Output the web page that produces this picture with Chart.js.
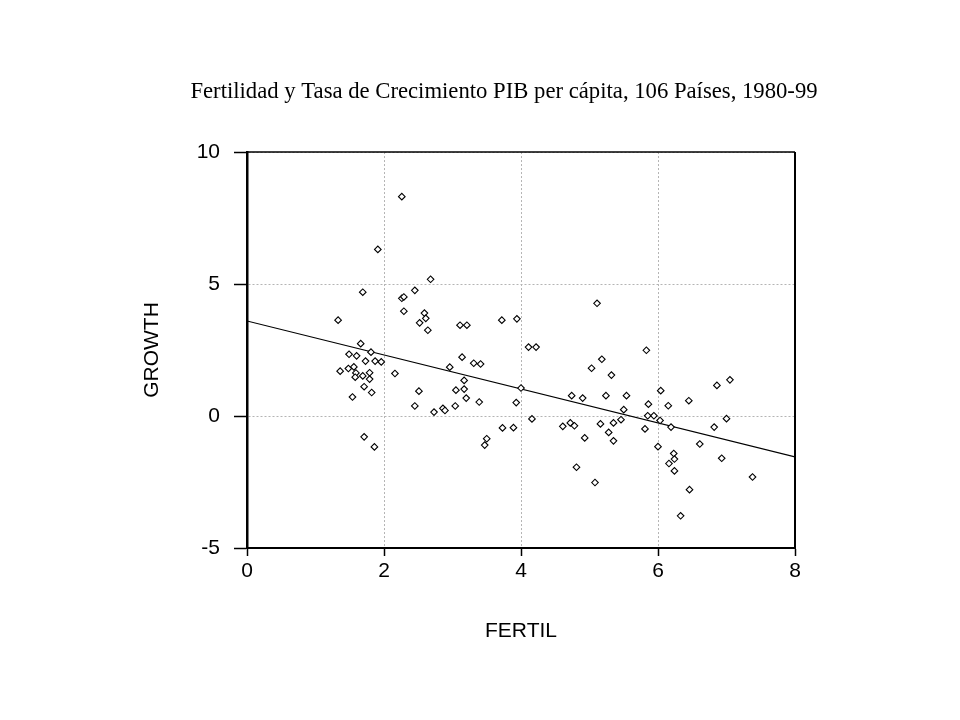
<!DOCTYPE html>
<html>
<head>
<meta charset="utf-8">
<script src="https://cdn.jsdelivr.net/npm/chart.js@4/dist/chart.umd.min.js"></script>
<style>
  html, body { margin: 0; padding: 0; background: #fff; }
  #chart { display: block; }
</style>
</head>
<body>
<canvas id="chart" width="960" height="720"></canvas>
<script>
const titleText = 'Fertilidad y Tasa de Crecimiento PIB per cápita, 106 Países, 1980-99';
const xLabel = 'FERTIL';
const yLabel = 'GROWTH';

const xTicks = [0, 2, 4, 6, 8];
const yTicks = [-5, 0, 5, 10];

// FERTIL
const fertil = [
  2.26, 1.91, 2.68, 1.69, 2.45, 2.26, 2.29, 2.29, 1.33, 2.59,
  2.61, 2.52, 2.64, 3.11, 3.21, 3.72, 3.94, 1.66, 1.49, 1.60,
  1.81, 1.73, 1.87, 1.96, 1.36, 1.48, 1.56, 1.59, 1.58, 1.69,
  1.79, 1.79, 1.71, 1.82, 1.54, 2.16, 2.51, 2.45, 2.73, 2.86,
  2.89, 3.04, 3.05, 3.17, 3.20, 3.39, 3.17, 2.96, 3.14, 3.31,
  3.41, 4.11, 4.22, 4.00, 3.93, 4.16, 3.73, 3.89, 3.50, 3.47,
  1.71, 1.86, 5.11, 5.83, 5.18, 5.03, 5.32, 7.05, 6.86, 4.74,
  4.90, 5.24, 5.54, 6.04, 6.45, 5.86, 6.15, 5.50, 5.85, 5.94,
  6.03, 5.46, 7.00, 4.61, 4.72, 4.78, 5.16, 5.35, 5.81, 6.19,
  6.82, 5.28, 4.93, 5.35, 6.00, 6.61, 6.23, 6.24, 6.16, 6.93,
  6.24, 4.81, 5.08, 7.38, 6.46, 6.33
];

// GROWTH, same order
const growth = [
  8.31, 6.31, 5.18, 4.69, 4.76, 4.46, 4.51, 3.97, 3.63, 3.90,
  3.70, 3.53, 3.25, 3.44, 3.44, 3.63, 3.68, 2.74, 2.34, 2.28,
  2.42, 2.08, 2.08, 2.05, 1.70, 1.80, 1.86, 1.63, 1.47, 1.52,
  1.64, 1.40, 1.11, 0.89, 0.72, 1.61, 0.94, 0.38, 0.15, 0.29,
  0.21, 0.38, 0.98, 1.02, 0.68, 0.53, 1.35, 1.85, 2.23, 2.00,
  1.97, 2.61, 2.61, 1.06, 0.51, -0.11, -0.45, -0.44, -0.86, -1.10,
  -0.79, -1.17, 4.27, 2.49, 2.15, 1.81, 1.55, 1.37, 1.16, 0.77,
  0.68, 0.77, 0.77, 0.96, 0.58, 0.45, 0.39, 0.24, 0.01, 0.01,
  -0.17, -0.14, -0.10, -0.39, -0.26, -0.37, -0.30, -0.26, -0.49, -0.42,
  -0.42, -0.62, -0.83, -0.94, -1.16, -1.06, -1.42, -1.63, -1.80, -1.60,
  -2.08, -1.94, -2.52, -2.31, -2.79, -3.78
];

// fitted line end points (x, y)
const fitX = [0, 8];
const fitY = [3.6, -1.55];

const sans = '"Liberation Sans", Arial, sans-serif';
const serif = '"Liberation Serif", "Times New Roman", serif';

// closes the box on top and right
const frame = {
  id: 'frame',
  afterDatasetsDraw(chart) {
    const { ctx, chartArea: a } = chart;
    ctx.save();
    ctx.strokeStyle = '#000';
    ctx.lineWidth = 1.5;
    ctx.beginPath();
    ctx.moveTo(a.left, a.top);
    ctx.lineTo(a.right, a.top);
    ctx.stroke();
    ctx.lineWidth = 2;
    ctx.beginPath();
    ctx.moveTo(a.right, a.top);
    ctx.lineTo(a.right, a.bottom + 1);
    ctx.stroke();
    ctx.restore();
  }
};

new Chart(document.getElementById('chart'), {
  type: 'scatter',
  data: {
    datasets: [
      {
        data: fertil.map((x, i) => ({ x, y: growth[i] })),
        pointStyle: 'rectRot',
        pointRadius: 3.3,
        pointBorderWidth: 1.1,
        pointBorderColor: '#000',
        pointBackgroundColor: '#fff',
        order: 1
      },
      {
        type: 'line',
        data: fitX.map((x, i) => ({ x, y: fitY[i] })),
        borderColor: '#000',
        borderWidth: 1.2,
        pointRadius: 0,
        fill: false,
        order: 2
      }
    ]
  },
  plugins: [frame],
  options: {
    responsive: false,
    devicePixelRatio: 1,
    animation: false,
    // left padding shifts the title centre to where the original has it
    layout: { padding: { left: 48, right: 0, top: 0, bottom: 0 } },
    plugins: {
      legend: { display: false },
      tooltip: { enabled: false },
      title: {
        display: true,
        text: titleText,
        color: '#000',
        font: { family: serif, size: 22.7, weight: 'normal' },
        padding: { top: 78.5, bottom: 46.3 }
      }
    },
    scales: {
      x: {
        type: 'linear',
        min: 0,
        max: 8,
        afterFit: s => { s.height = 172; },
        afterBuildTicks: s => { s.ticks = xTicks.map(v => ({ value: v })); },
        ticks: {
          color: '#000',
          font: { family: sans, size: 21 },
          padding: 3,
          maxRotation: 0
        },
        grid: {
          color: '#b4b4b4',
          lineWidth: 1,
          tickColor: '#000',
          tickLength: 8,
          tickWidth: 1.5
        },
        border: { display: true, color: '#000', width: 2, dash: [2, 2] },
        title: {
          display: true,
          text: xLabel,
          color: '#000',
          font: { family: sans, size: 21 },
          padding: { top: 0, bottom: 76 }
        }
      },
      y: {
        type: 'linear',
        min: -5,
        max: 10,
        afterFit: s => { s.width = 199; },
        afterBuildTicks: s => { s.ticks = yTicks.map(v => ({ value: v })); },
        ticks: {
          color: '#000',
          font: { family: sans, size: 21 },
          padding: 14
        },
        grid: {
          color: '#b4b4b4',
          lineWidth: 1,
          tickColor: '#000',
          tickLength: 13,
          tickWidth: 1.5
        },
        border: { display: true, color: '#000', width: 2.5, dash: [2, 2] },
        title: {
          display: true,
          text: yLabel,
          color: '#000',
          font: { family: sans, size: 21 },
          padding: { top: 91.4, bottom: 0 }
        }
      },
      // empty right-hand axis, only reserves the white margin
      yRight: {
        type: 'linear',
        position: 'right',
        min: -5,
        max: 10,
        afterFit: s => { s.width = 165; },
        ticks: { display: false },
        grid: { display: false },
        border: { display: false }
      }
    }
  }
});
</script>
</body>
</html>
